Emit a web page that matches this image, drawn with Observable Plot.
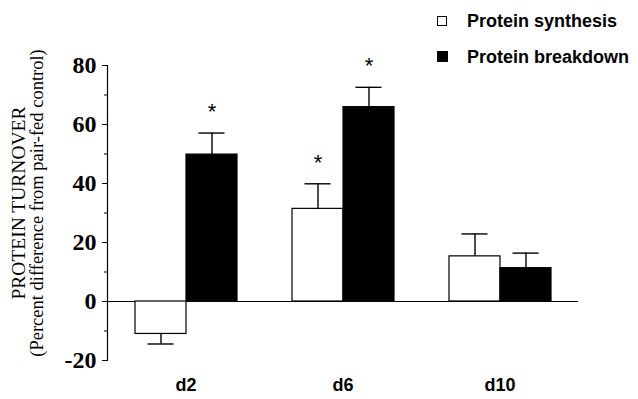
<!DOCTYPE html>
<html><head><meta charset="utf-8">
<script src="https://cdn.jsdelivr.net/npm/d3@7"></script>
<script src="https://cdn.jsdelivr.net/npm/@observablehq/plot@0.6"></script>
<style>
body{margin:0;background:#fff;}
#wrap{position:relative;width:638px;height:399px;overflow:hidden;}
#ylab{position:absolute;left:-172px;top:184px;width:400px;height:38px;line-height:19px;
  text-align:center;font-family:"Liberation Serif",serif;color:#000;
  transform:rotate(-90deg);transform-origin:50% 50%;white-space:nowrap;}
#ylab .l1{font-size:19.5px;}
#ylab .l2{font-size:18.5px;}
.leg{position:absolute;left:437px;font-family:"Liberation Sans",Arial,sans-serif;font-weight:bold;font-size:18px;line-height:20px;color:#000;white-space:nowrap;}
.sw{position:absolute;left:0;width:10px;height:10px;border:1px solid #000;box-sizing:border-box;}
.lt{position:absolute;left:30px;top:0;}
</style></head><body><div id="wrap"></div>
<script>
const days = ["d2", "d6", "d10"];
const seriesNames = ["Protein synthesis", "Protein breakdown"];
const synthesis = [-11, 31.4, 15.3];
const synthesisErr = [3.4, 8.5, 7.6];
const synthesisSig = [false, true, false];
const breakdown = [49.8, 65.9, 11.3];
const breakdownErr = [7.3, 6.7, 5.1];
const breakdownSig = [true, true, false];
const yTicks = [-20, 0, 20, 40, 60, 80];
const yMinorTicks = [-10, 10, 30, 50, 70];
const yLabelLines = ["PROTEIN TURNOVER", "(Percent difference from pair-fed control)"];
const seriesFill = ["white", "black"];

const rows = [];
days.forEach((d, i) => {
  rows.push({day: d, series: seriesNames[0], value: synthesis[i], err: synthesisErr[i], sig: synthesisSig[i]});
  rows.push({day: d, series: seriesNames[1], value: breakdown[i], err: breakdownErr[i], sig: breakdownSig[i]});
});
rows.forEach(r => { r.end = r.value + Math.sign(r.value) * r.err; });

const chart = Plot.plot({
  width: 638,
  height: 399,
  marginLeft: 107,
  marginRight: 60,
  marginTop: 65,
  marginBottom: 39,
  style: {fontFamily: "Liberation Sans, Arial, sans-serif", background: "white", color: "black"},
  fx: {domain: days, padding: 0},
  x: {domain: seriesNames, paddingInner: 0, paddingOuter: 0.51, axis: null},
  y: {domain: [-20, 80]},
  color: {domain: seriesNames, range: seriesFill},
  marks: [
    Plot.ruleY([0], {stroke: "black", strokeWidth: 1.2}),
    Plot.barY(rows, {fx: "day", x: "series", y: "value", fill: "series", stroke: "black", strokeWidth: 1.2}),
    Plot.ruleX(rows, {fx: "day", x: "series", y1: "value", y2: "end", stroke: "black", strokeWidth: 1.4}),
    Plot.tickY(rows, {fx: "day", x: "series", y: "end", stroke: "black", strokeWidth: 1.4, insetLeft: 12.5, insetRight: 12.5}),
    Plot.text(rows.filter(r => r.sig), {fx: "day", x: "series", y: "end", text: () => "*", dy: -21, fontSize: 22, fontFamily: "Liberation Sans, Arial, sans-serif", fill: "black"}),
    Plot.frame({anchor: "left", facetAnchor: "left", stroke: "black", strokeWidth: 1.2}),
    Plot.axisY({ticks: yMinorTicks, tickSize: 3, text: null, stroke: "black"}),
    Plot.axisY({ticks: yTicks, tickSize: 5, tickPadding: 6, tickFormat: d => d, fontSize: 24, fontWeight: "bold", fontFamily: "Liberation Serif, Times New Roman, serif", label: null, stroke: "black"}),
    Plot.axisFx({anchor: "bottom", tickSize: 0, tickPadding: 18, fontSize: 18, fontWeight: "bold", fontFamily: "Liberation Sans, Arial, sans-serif", label: null})
  ]
});

const wrap = document.getElementById("wrap");
wrap.appendChild(chart);

const yl = document.createElement("div");
yl.id = "ylab";
yLabelLines.forEach((line, i) => {
  const s = document.createElement("div");
  s.className = "l" + (i + 1);
  s.textContent = line;
  yl.appendChild(s);
});
wrap.appendChild(yl);

const legTops = [11, 47];
seriesNames.forEach((s, i) => {
  const d = document.createElement("div");
  d.className = "leg";
  d.style.top = legTops[i] + "px";
  const sw = document.createElement("div");
  sw.className = "sw";
  sw.style.top = (i === 0 ? 5 : 4) + "px";
  sw.style.background = seriesFill[i];
  if (i === 1) { sw.style.width = "11px"; sw.style.height = "11px"; }
  const t = document.createElement("span");
  t.className = "lt";
  t.textContent = s;
  d.appendChild(sw);
  d.appendChild(t);
  wrap.appendChild(d);
});
</script>
</body></html>
